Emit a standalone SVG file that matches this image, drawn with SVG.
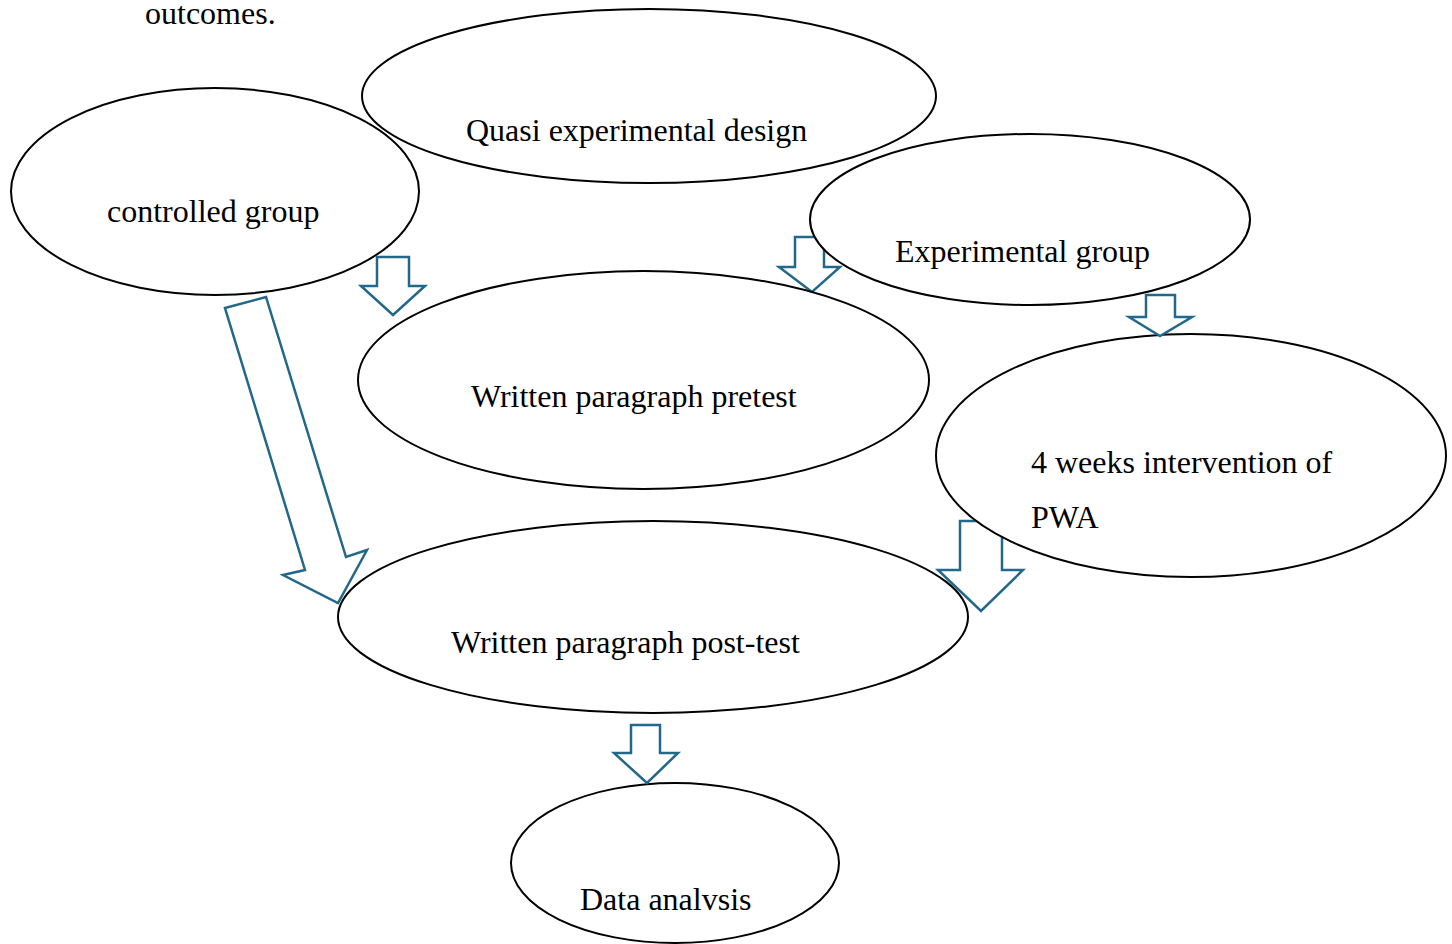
<svg xmlns="http://www.w3.org/2000/svg" width="1452" height="944" viewBox="0 0 1452 944">
<style>
.n{fill:#fff;stroke:#000;stroke-width:2}
.a{fill:#fff;stroke:#23688a;stroke-width:2.5;stroke-linejoin:miter}
.t{font-family:"Liberation Serif","Times New Roman",serif;font-size:32px;fill:#000}
</style>
<rect width="1452" height="944" fill="#fff"/>
<text class="t" x="145" y="24">outcomes.</text>
<g id="connectors-back">
<polygon class="a" points="795,237 824,237 824,267 840,267 812,292 779,267 795,267"/>
<polygon class="a" points="960,521 1002,521 1002,570 1023,570 981,611 938,570 960,570"/>
</g>
<g id="quasi"><ellipse class="n" cx="649" cy="96" rx="287" ry="87"/><text class="t" x="466" y="141">Quasi experimental design</text></g>
<g id="controlled"><ellipse class="n" cx="215" cy="191.5" rx="204" ry="103.5"/><text class="t" x="107" y="222">controlled group</text></g>
<g id="experimental"><ellipse class="n" cx="1030" cy="219.5" rx="220" ry="85.5"/><text class="t" x="895" y="262">Experimental group</text></g>
<g id="pretest"><ellipse class="n" cx="643.5" cy="380" rx="285.5" ry="109"/><text class="t" x="471" y="407">Written paragraph pretest</text></g>
<g id="intervention"><ellipse class="n" cx="1191" cy="455.5" rx="255" ry="121.5"/><text class="t" x="1031" y="473">4 weeks intervention of</text><text class="t" x="1031" y="528">PWA</text></g>
<g id="posttest"><ellipse class="n" cx="653" cy="617" rx="315" ry="96"/><text class="t" x="451" y="653">Written paragraph post-test</text></g>
<g id="analysis"><ellipse class="n" cx="675" cy="863" rx="164" ry="80"/><text class="t" x="580" y="910">Data analvsis</text></g>
<g id="connectors">
<polygon class="a" points="377,257 409,257 409,286 425,286 393,315 361,286 377,286"/>
<polygon class="a" points="1146,295 1175,295 1175,317 1192,317 1160,336 1129,317 1146,317"/>
<polygon class="a" points="225,308 266,297 346,557 367,550 338,603 283,575 305,570"/>
<polygon class="a" points="631,725 660,725 660,753 678,753 647,783 614,753 631,753"/>
</g>
</svg>
